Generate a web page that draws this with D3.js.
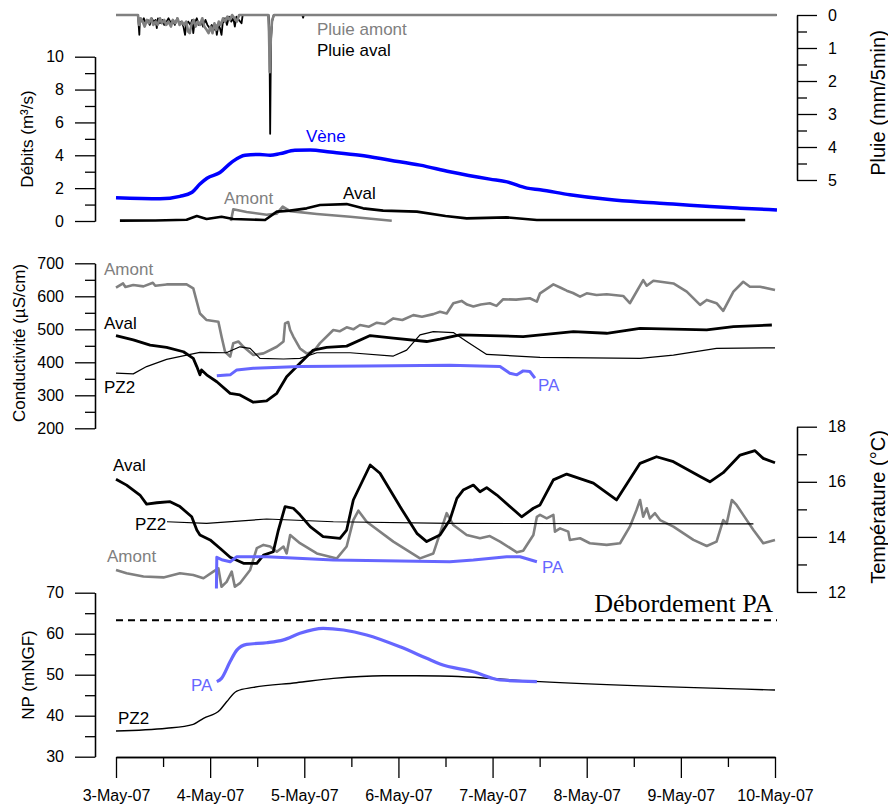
<!DOCTYPE html>
<html>
<head>
<meta charset="utf-8">
<script src="https://cdnjs.cloudflare.com/ajax/libs/d3/7.8.5/d3.min.js"></script>
<style>
  body { margin: 0; background: #fff; }
  svg { font-family: Arial, "Liberation Sans", sans-serif; }
</style>
</head>
<body>
<svg width="888" height="807"></svg>
<script>

// all times in hours since 3-May-07 00:00
var rainAval = [[0,0],[5.6,0],[5.8,0.35],[5.95,0.6],[6.1,0.1],[6.6,0.2],[7.1,0.1],[7.6,0.25],[8.1,0.15],[8.6,0.3],[9.1,0.1],[9.6,0.2],[10.1,0.15],[10.4,0.4],[10.7,0.1],[11.2,0.25],[11.8,0.15],[12.3,0.3],[12.9,0.2],[13.4,0.1],[14,0.25],[14.5,0.15],[15,0.3],[15.6,0.1],[16.1,0.25],[16.7,0.2],[17.2,0.35],[17.6,0.6],[17.9,0.3],[18.4,0.2],[19,0.3],[19.4,0.15],[19.7,0.55],[20,0.25],[20.6,0.1],[21.1,0.3],[21.7,0.2],[22.2,0.35],[22.8,0.15],[23.3,0.3],[23.9,0.4],[24.4,0.3],[25,0.45],[25.4,0.3],[25.7,0.6],[26.1,0.3],[26.5,0.4],[26.9,0.6],[27.2,0.25],[27.8,0.1],[28.3,0.3],[28.8,0.05],[29.4,0.2],[29.9,0.1],[30.3,0.35],[30.7,0.05],[31.3,0.15],[32,0.25],[32.3,0],[38.9,0],[39.1,0.4],[39.3,3.6],[39.5,0.8],[39.8,0.2],[40.2,0],[47.5,0],[47.7,0.08],[47.9,0],[168.4,0]];
var rainAmont = [[0,0],[5.6,0],[5.9,0.3],[6.3,0.1],[6.8,0.2],[7.3,0.35],[7.9,0.15],[8.4,0.25],[9,0.1],[9.5,0.3],[10.1,0.2],[10.6,0.3],[11.2,0.1],[11.7,0.25],[12.3,0.15],[12.8,0.3],[13.4,0.2],[14,0.35],[14.5,0.15],[15.1,0.25],[15.7,0.1],[16.2,0.3],[16.8,0.2],[17.3,0.3],[17.9,0.2],[18.4,0.5],[18.8,0.55],[19.2,0.3],[19.8,0.15],[20.3,0.35],[20.9,0.2],[21.4,0.3],[22,0.1],[22.5,0.35],[23.1,0.45],[23.6,0.55],[24.1,0.35],[24.6,0.55],[25.1,0.25],[25.6,0.45],[26.2,0.2],[26.7,0.3],[27.3,0.1],[27.8,0.2],[28.4,0.05],[29,0.15],[29.6,0],[30.2,0.1],[30.8,0.2],[31.4,0],[38.8,0],[39.0,0.5],[39.2,1.73],[39.5,0.6],[39.8,0.15],[40.3,0],[168.4,0]];

var qVene = [[0,1.42],[11.2,1.35],[16.3,1.5],[19.4,1.75],[21.4,2.25],[23.2,2.6],[26.5,2.95],[29.6,3.6],[32.9,4.0],[36.7,4.05],[39.3,4.0],[41.8,4.1],[45.6,4.3],[49.5,4.32],[54.6,4.2],[62.2,4.0],[69.9,3.7],[77.5,3.4],[85.1,3.0],[95.3,2.55],[99.7,2.38],[104.8,2.0],[108.1,1.9],[115.7,1.6],[125.2,1.32],[133.6,1.15],[142,1.03],[151.4,0.88],[159.1,0.78],[168.5,0.67]];
var qAval = [[1,0.02],[10,0.03],[18,0.08],[20.6,0.3],[23.1,0.12],[26.9,0.26],[29.9,0.12],[38,0.06],[41,0.57],[44.4,0.63],[48.6,0.77],[52,0.97],[58.8,1.03],[63,0.77],[68.1,0.63],[76.7,0.57],[84,0.3],[89.4,0.16],[99.6,0.22],[107.3,0.06],[160.4,0.06]];
var qAmont = [[29.3,0.0],[29.9,0.71],[33.3,0.55],[38.4,0.38],[41,0.45],[42.5,0.87],[44.4,0.6],[51.2,0.43],[59.7,0.26],[70.3,0.02]];

var condAmont = [[0,626],[1.8,639],[2.4,628],[4.4,634],[7,630],[9.4,641],[10,632],[12.9,636],[18.0,636],[19.7,624],[21.4,548],[23.1,528],[26.1,523],[26.9,478],[27.8,432],[29.1,417],[29.9,458],[31.2,463],[32.5,447],[35.0,422],[37.6,427],[41.0,447],[42.7,463],[43.1,518],[43.9,522],[44.4,498],[45.2,478],[46.9,442],[48.6,427],[50.3,432],[52.0,458],[55.4,498],[57,494],[58.8,506],[60.5,500],[62.2,513],[64.5,508],[66.5,520],[68.5,516],[70.7,533],[73,528],[75.8,543],[78,538],[80.9,546],[82.6,553],[84.3,548],[86,579],[88.1,586],[89.5,575],[91.1,569],[93,575],[95.3,579],[97,571],[98.7,591],[102,590],[105.5,594],[107.3,584],[108.1,609],[111.5,636],[113.5,625],[114.9,617],[116.5,610],[118.3,599],[120,609],[122.5,604],[125.1,606],[129.3,601],[131,579],[134.4,649],[135.3,632],[137,647],[142.1,639],[145.5,614],[148.9,574],[150.6,589],[153.1,579],[154.8,556],[157.4,614],[159.9,644],[161.6,629],[164.2,629],[168,619]];
var condAval = [[0,481],[4.4,468],[8.7,452],[12.9,445],[17.2,432],[19.7,412],[20.6,387],[21.4,362],[21.8,377],[23.1,362],[25.7,341],[29.1,306],[31.6,301],[35.0,279],[38.4,283],[41.0,306],[43.5,356],[46.9,397],[50.3,437],[53.7,445],[58.8,449],[64.8,481],[70.7,473],[79.2,463],[82.6,470],[87.7,483],[103.8,478],[116.6,493],[125.1,488],[133.6,503],[150.6,498],[157.4,508],[167.2,513]];
var condPZ2 = [[0,367],[4.4,365],[7.8,387],[12.9,409],[18.0,422],[21.4,430],[28.1,429],[31.6,447],[34.2,442],[36.7,412],[42.7,410],[46.9,412],[51.2,429],[59.7,429],[70.7,419],[74.1,437],[77.5,483],[80.9,493],[86,490],[89.4,463],[94.5,424],[108.1,415],[133.6,412],[142.1,422],[153.1,442],[168,444]];
var condPA = [[25.7,359],[29.1,362],[30.8,377],[35.0,382],[46.9,387],[63.9,389],[85.1,391],[97.9,387],[100.4,367],[102.2,362],[103.8,374],[105.5,372],[106.8,352]];

var tempAval = [[0,16.09],[2.7,15.88],[6.1,15.52],[7.8,15.19],[10.4,15.24],[13.8,15.28],[16.3,15.1],[19.3,14.73],[20.6,14.25],[21.4,14.07],[24,13.89],[26.5,13.59],[29.1,13.26],[32.5,13.04],[35.9,13.04],[37.6,13.34],[40.1,13.46],[41.4,14.25],[43.1,15.1],[45.2,15.04],[46.9,14.8],[49.5,14.37],[52.8,14.01],[57.1,13.95],[58.8,14.25],[60.5,15.34],[64.8,16.61],[67.3,16.31],[72.4,15.1],[76.7,14.13],[79.2,13.83],[80.9,13.95],[82.6,14.07],[85.1,14.61],[86.9,15.4],[88.5,15.7],[91.1,15.88],[92.8,15.64],[94.5,15.79],[97.1,15.52],[103.4,14.73],[106.4,15.04],[108.1,15.16],[111.5,16.07],[114.9,16.28],[121.7,15.95],[127.6,15.34],[133.6,16.67],[137.8,16.91],[142.1,16.73],[148.9,16.19],[151.4,16.0],[154.8,16.33],[159.1,16.97],[162.9,17.13],[165,16.85],[168,16.69]];
var tempPZ2 = [[13,14.55],[23.1,14.49],[38.4,14.65],[55.4,14.55],[85.1,14.49],[162.5,14.47]];
var tempAmont = [[0,12.8],[2.7,12.68],[7.0,12.56],[12.1,12.53],[16.3,12.68],[19.7,12.62],[22.3,12.5],[24.8,12.74],[26.1,12.86],[26.9,12.19],[28.2,12.37],[29.5,12.74],[30.3,12.19],[31.6,12.32],[34.2,12.8],[35.9,13.59],[37.6,13.71],[39.3,13.65],[41,13.46],[42.7,13.65],[43.5,13.4],[44.4,14.07],[46.9,13.77],[51.2,13.4],[56.3,13.22],[58.8,13.65],[60.5,14.61],[61.8,14.95],[63.9,14.55],[70.7,13.83],[77.5,13.22],[80.9,13.4],[84.3,14.86],[86,14.43],[89.4,14.07],[92.8,13.95],[95.3,14.03],[97.9,13.83],[102.2,13.44],[103.8,13.5],[106.4,14.07],[107.3,14.73],[108.1,14.8],[109.8,14.67],[111.5,14.8],[111.9,14.19],[113.2,14.31],[115.3,14.19],[115.7,13.89],[118.3,13.95],[120.8,13.77],[125.1,13.71],[128.5,13.77],[131,14.37],[132.7,14.98],[133.6,15.34],[134.4,14.73],[135.3,15.04],[136.1,14.67],[137.4,14.86],[138.7,14.61],[142.1,14.37],[147.2,13.89],[150.6,13.67],[153.1,13.83],[154.8,14.61],[155.7,14.49],[157,15.34],[158.2,15.16],[159.9,14.8],[162.5,14.25],[165,13.77],[168,13.89]];
var tempPA = [[25.6,12.13],[25.7,13.26],[27.2,13.16],[29.1,13.1],[30.8,13.28],[38.4,13.28],[55.4,13.16],[85.1,13.1],[91.1,13.16],[99.6,13.28],[103,13.28],[107.3,13.1]];

var npPZ2 = [[0,36.27],[12.9,36.93],[19.7,37.9],[22.3,39.37],[26.5,41.4],[28.2,43.4],[30.8,46.0],[35,46.9],[46,48.05],[55.4,49.1],[68.1,49.76],[82.6,49.7],[108.1,48.3],[168,46.27]];
var npPA = [[25.7,48.3],[26.9,49.1],[29.1,53.2],[30.8,56.0],[33.3,57.4],[38.4,57.8],[42.7,58.5],[46.9,60.1],[52.8,61.3],[58,60.9],[63.9,59.7],[72.4,56.8],[79.2,54.0],[82.6,52.6],[91.1,50.7],[97.9,48.7],[107.3,48.3]];
var npOverflow = 63.3;

var svg = d3.select("svg");
var t0 = new Date(2007, 4, 3),
    t1 = new Date(2007, 4, 10);
function hd(h) { return new Date(t0.getTime() + h * 3600000); }

var x = d3.scaleTime().domain([t0, t1]).range([116, 775]);

var yQ = d3.scaleLinear().domain([0, 10]).range([221, 56.7]),
    yRain = d3.scaleLinear().domain([0, 5]).range([15, 180]),
    yC = d3.scaleLinear().domain([200, 700]).range([428.3, 263.3]),
    yT = d3.scaleLinear().domain([12, 18]).range([592, 426.7]),
    yNP = d3.scaleLinear().domain([30, 70]).range([756.7, 592.7]);

var grey = "#808080", blue = "#0000ff", paBlue = "#6666ff";

function draw(data, y, color, w, curve) {
    var line = d3.line()
        .x(function(d) { return x(hd(d[0])); })
        .y(function(d) { return y(d[1]); })
        .curve(curve || d3.curveLinear);
    svg.append("path")
        .datum(data)
        .attr("d", line)
        .attr("fill", "none")
        .attr("stroke", color)
        .attr("stroke-width", w)
        .attr("stroke-linejoin", "round");
}

function axis(fn, scale, pos, horiz, major, minor, fmt) {
    var gm = svg.append("g").attr("transform", horiz ? "translate(0," + pos + ")" : "translate(" + pos + ",0)");
    gm.call(fn(scale).tickValues(minor).tickSize(10).tickSizeOuter(0).tickFormat(""));
    var g = svg.append("g").attr("transform", horiz ? "translate(0," + pos + ")" : "translate(" + pos + ",0)");
    g.call(fn(scale).tickValues(major).tickSize(horiz ? 21 : 20).tickSizeOuter(0).tickPadding(horiz ? 12 : 11).tickFormat(fmt));
    g.attr("font-size", 16).attr("font-family", "Arial, 'Liberation Sans', sans-serif");
    g.selectAll("text").attr("fill", "#000");
    svg.selectAll("g line, g path.domain").attr("stroke-width", 1.3);
}

function label(txt, px, py, color, size, anchor) {
    return svg.append("text").attr("x", px).attr("y", py).attr("fill", color || "#000")
        .attr("font-size", size || 17).attr("text-anchor", anchor || "start").text(txt);
}
function vtitle(txt, px, py, size) {
    svg.append("text").attr("transform", "translate(" + px + "," + py + ") rotate(-90)")
        .attr("text-anchor", "middle").attr("font-size", size || 17).text(txt);
}

// axes
axis(d3.axisLeft, yQ, 95, false, [0, 2, 4, 6, 8, 10], [1, 3, 5, 7, 9], d3.format("d"));
axis(d3.axisRight, yRain, 797, false, [0, 1, 2, 3, 4, 5], [0.5, 1.5, 2.5, 3.5, 4.5], d3.format("d"));
axis(d3.axisLeft, yC, 95, false, [200, 300, 400, 500, 600, 700], [250, 350, 450, 550, 650], d3.format("d"));
axis(d3.axisRight, yT, 797, false, [12, 14, 16, 18], [13, 15, 17], d3.format("d"));
axis(d3.axisLeft, yNP, 95, false, [30, 40, 50, 60, 70], [35, 45, 55, 65], d3.format("d"));
var days = d3.timeDay.range(t0, d3.timeDay.offset(t1, 1));
var halves = days.slice(0, -1).map(function(d) { return d3.timeHour.offset(d, 12); });
axis(d3.axisBottom, x, 757, true, days, halves, d3.timeFormat("%-d-%b-%y"));

// titles
vtitle("Débits (m³/s)", 33, 139);
vtitle("Conductivité (µS/cm)", 25, 343);
vtitle("NP (mNGF)", 34, 675);
vtitle("Pluie (mm/5min)", 885, 103, 20);
vtitle("Température (°C)", 885, 507, 20);

// panel 1 : rain + flows
draw(rainAval, yRain, "#000", 1.8);
draw(rainAmont, yRain, grey, 2.6);
draw(qVene, yQ, blue, 3.5, d3.curveMonotoneX);
draw(qAmont, yQ, grey, 2.6);
draw(qAval, yQ, "#000", 2.6);
label("Pluie amont", 317, 35, grey);
label("Pluie aval", 317, 56, "#000");
label("Vène", 306, 142, blue);
label("Amont", 224, 204, grey);
label("Aval", 343, 199, "#000");

// panel 2 : conductivity
draw(condAmont, yC, grey, 2.6);
draw(condPZ2, yC, "#000", 1.2);
draw(condAval, yC, "#000", 2.8);
draw(condPA, yC, paBlue, 3);
label("Amont", 104, 275, grey);
label("Aval", 104, 329, "#000");
label("PZ2", 104, 393, "#000");
label("PA", 538, 391, paBlue);

// panel 3 : temperature
draw(tempAmont, yT, grey, 2.6);
draw(tempPZ2, yT, "#000", 1.2);
draw(tempAval, yT, "#000", 2.8);
draw(tempPA, yT, paBlue, 3);
label("Aval", 113, 471, "#000");
label("PZ2", 135, 530, "#000");
label("Amont", 107, 562, grey);
label("PA", 542, 573, paBlue);

// panel 4 : water levels
svg.append("line")
    .attr("x1", x(t0)).attr("x2", x(t1) + 2)
    .attr("y1", yNP(npOverflow)).attr("y2", yNP(npOverflow))
    .attr("stroke", "#000").attr("stroke-width", 2).attr("stroke-dasharray", "7,5");
label("Débordement PA", 773, 612, "#000", 26, "end").attr("font-family", "'Liberation Serif', 'Times New Roman', serif");
draw(npPZ2, yNP, "#000", 1.4, d3.curveMonotoneX);
draw(npPA, yNP, paBlue, 3.2, d3.curveMonotoneX);
label("PA", 191, 691, paBlue);
label("PZ2", 118, 724, "#000");

</script>
</body>
</html>
